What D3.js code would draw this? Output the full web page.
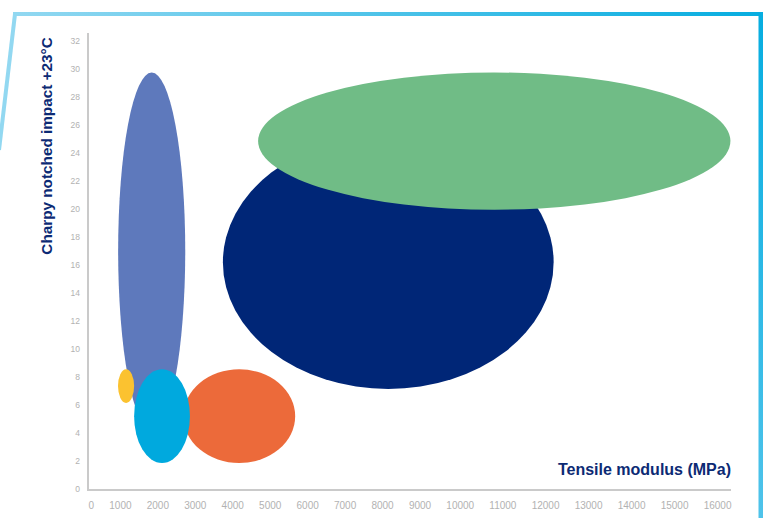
<!DOCTYPE html>
<html>
<head>
<meta charset="utf-8">
<script src="https://cdn.jsdelivr.net/npm/d3@7"></script>
<style>
  html, body { margin: 0; padding: 0; background: #ffffff; }
  svg { display: block; }
</style>
</head>
<body>
<svg id="chart" width="766" height="518"></svg>
<script>
// ---------- data ----------
const xTickValues = [0, 1000, 2000, 3000, 4000, 5000, 6000, 7000, 8000, 9000, 10000, 11000, 12000, 13000, 14000, 15000, 16000];
const yTickValues = [0, 2, 4, 6, 8, 10, 12, 14, 16, 18, 20, 22, 24, 26, 28, 30, 32];
const seriesNames = ["Material A", "Material B", "Material C", "Material D", "Material E", "Material F"];
const modulusMin = [940, 3750, 4690, 2695, 1380, 935];     // MPa
const modulusMax = [2745, 12200, 16310, 5680, 2870, 1380]; // MPa
const impactMin = [4.2, 7.1, 19.9, 1.8, 1.8, 6.1];
const impactMax = [29.7, 25.2, 29.7, 8.5, 8.5, 8.5];
const seriesColors = ["#5e79bc", "#002677", "#70bc86", "#ec6a3a", "#00a9de", "#fbc230"];
const xTitle = "Tensile modulus (MPa)";
const yTitle = "Charpy notched impact +23°C";

// ---------- layout ----------
const svg = d3.select("#chart");
const plot = { left: 88, right: 731, top: 33, bottom: 490 };
const tickFont = "Liberation Sans, Arial, sans-serif";
const titleColor = "#0c2a74";
const tickColor = "#b2b2b2";
const axisColor = "#cacaca";

// frame gradients
const defs = svg.append("defs");
const gTop = defs.append("linearGradient").attr("id", "gTop").attr("x1", "0%").attr("x2", "100%").attr("y1", "0%").attr("y2", "0%");
gTop.append("stop").attr("offset", "0%").attr("stop-color", "#92d8f1");
gTop.append("stop").attr("offset", "100%").attr("stop-color", "#06ade0");
const gRight = defs.append("linearGradient").attr("id", "gRight").attr("x1", "0%").attr("x2", "0%").attr("y1", "0%").attr("y2", "100%");
gRight.append("stop").attr("offset", "0%").attr("stop-color", "#06ade0");
gRight.append("stop").attr("offset", "100%").attr("stop-color", "#4fc3ea");

// frame
svg.append("path").attr("d", "M15,14 L-1,150").attr("stroke", "#92d8f1").attr("stroke-width", 4).attr("fill", "none");
svg.append("rect").attr("x", 13).attr("y", 12).attr("width", 750).attr("height", 4).attr("fill", "url(#gTop)");
svg.append("rect").attr("x", 758.5).attr("y", 12).attr("width", 4.5).attr("height", 506).attr("fill", "url(#gRight)");

// ---------- x tick label layout (labels spread edge to edge along the axis) ----------
const measure = svg.append("g").attr("font-family", tickFont).attr("font-size", 10);
const widths = xTickValues.map(v => {
  const t = measure.append("text").text(String(v));
  const w = t.node().getComputedTextLength();
  t.remove();
  return w;
});
measure.remove();
const totalW = d3.sum(widths);
const gap = (plot.right - plot.left - totalW) / (xTickValues.length - 1);
const centers = [];
let cursor = plot.left;
widths.forEach(w => { centers.push(cursor + w / 2); cursor += w + gap; });

const x = d3.scaleLinear().domain(xTickValues).range(centers);
const y = d3.scaleLinear().domain([0, 32]).range([488.3, 40.3]);

// ---------- ellipses ----------
const rows = seriesNames.map((name, i) => ({
  name, color: seriesColors[i],
  x0: modulusMin[i], x1: modulusMax[i], y0: impactMin[i], y1: impactMax[i]
}));
svg.append("g").selectAll("ellipse").data(rows).join("ellipse")
  .attr("cx", d => (x(d.x0) + x(d.x1)) / 2)
  .attr("cy", d => (y(d.y0) + y(d.y1)) / 2)
  .attr("rx", d => (x(d.x1) - x(d.x0)) / 2)
  .attr("ry", d => (y(d.y0) - y(d.y1)) / 2)
  .attr("fill", d => d.color);

// ---------- axes ----------
const xAxis = svg.append("g").attr("transform", `translate(0,${plot.bottom})`)
  .call(d3.axisBottom(x).tickValues(xTickValues).tickSize(0).tickPadding(12).tickFormat(d => String(d)));
xAxis.select(".domain").remove();
xAxis.selectAll("text").attr("fill", tickColor).attr("font-family", tickFont).attr("font-size", 10);

const yAxis = svg.append("g").attr("transform", `translate(${plot.left},0)`)
  .call(d3.axisLeft(y).tickValues(yTickValues).tickSize(0).tickPadding(8).tickFormat(d => String(d)));
yAxis.select(".domain").remove();
yAxis.selectAll("text").attr("fill", tickColor).attr("font-family", tickFont).attr("font-size", 8.5);

svg.append("line").attr("x1", plot.left).attr("x2", plot.left).attr("y1", plot.top).attr("y2", plot.bottom)
  .attr("stroke", axisColor).attr("stroke-width", 2);
svg.append("line").attr("x1", plot.left - 1).attr("x2", plot.right).attr("y1", plot.bottom).attr("y2", plot.bottom)
  .attr("stroke", axisColor).attr("stroke-width", 2);

// ---------- titles ----------
svg.append("text").text(xTitle)
  .attr("x", plot.right).attr("y", 474.5).attr("text-anchor", "end")
  .attr("font-family", "Liberation Sans, Arial, sans-serif").attr("font-weight", "bold").attr("font-size", 16)
  .attr("fill", titleColor);

svg.append("text").text(yTitle)
  .attr("transform", "translate(52,146) rotate(-90)").attr("text-anchor", "middle")
  .attr("font-family", "Liberation Sans, Arial, sans-serif").attr("font-weight", "bold").attr("font-size", 15.3)
  .attr("fill", titleColor);
</script>
</body>
</html>
